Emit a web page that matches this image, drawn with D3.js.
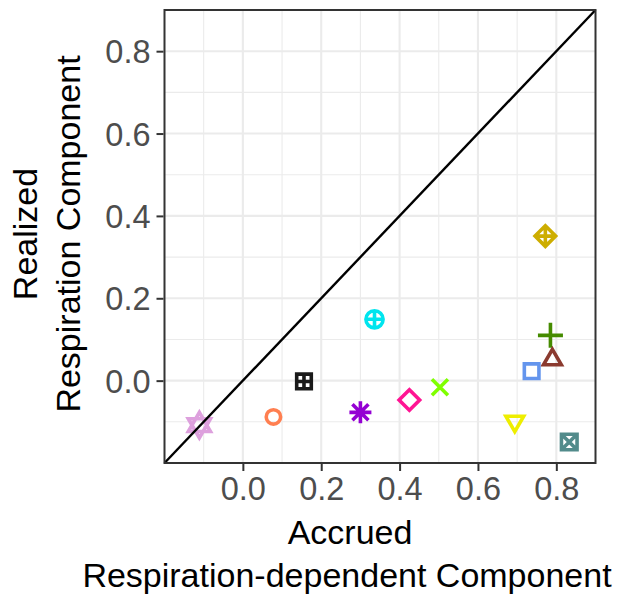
<!DOCTYPE html>
<html>
<head>
<meta charset="utf-8">
<script src="https://cdn.jsdelivr.net/npm/d3@7"></script>
<style>
  html, body { margin: 0; padding: 0; background: #fff; }
  svg { display: block; font-family: "Liberation Sans", Arial, sans-serif; }
</style>
</head>
<body>
<svg id="chart" width="627" height="600"></svg>
<script>
// ---- data ----
const accrued  = [-0.111, 0.078, 0.156, 0.300, 0.336, 0.425, 0.503, 0.772, 0.785, 0.790, 0.737, 0.694, 0.833];
const realized = [-0.108, -0.088, -0.002, -0.077, 0.149, -0.047, -0.016, 0.351, 0.110, 0.051, 0.023, -0.099, -0.149];
const shapes   = ["starDavid", "circle", "squarePlus", "asterisk", "circlePlus", "diamond", "cross", "diamondPlus", "plus", "triangleUp", "square", "triangleDown", "squareCross"];
const colors   = ["#DDA0DD", "#FF7F50", "#1A1A1A", "#9400D3", "#00E5EE", "#FF1493", "#7FFF00", "#CDAD00", "#458B00", "#8B3A2F", "#6495ED", "#EEEE00", "#528B8B"];
const tickValues = [0.0, 0.2, 0.4, 0.6, 0.8];
const minorValues = [-0.1, 0.1, 0.3, 0.5, 0.7];
const xTitle = ["Accrued", "Respiration-dependent Component"];
const yTitle = ["Realized", "Respiration Component"];

const svg = d3.select("#chart");
const panel = {left: 164.5, right: 595.5, top: 10, bottom: 463};

const x = d3.scaleLinear().domain([-0.2, 0.9]).range([panel.left, panel.right]);
const y = d3.scaleLinear().domain([-0.2, 0.9]).range([panel.bottom, panel.top]);

// grid
const grid = svg.append("g");
grid.selectAll(".vminor").data(minorValues).enter().append("line")
  .attr("x1", d => x(d)).attr("x2", d => x(d)).attr("y1", panel.top).attr("y2", panel.bottom)
  .attr("stroke", "#EBEBEB").attr("stroke-width", 1.1);
grid.selectAll(".hminor").data(minorValues).enter().append("line")
  .attr("y1", d => y(d)).attr("y2", d => y(d)).attr("x1", panel.left).attr("x2", panel.right)
  .attr("stroke", "#EBEBEB").attr("stroke-width", 1.1);
grid.selectAll(".vmajor").data(tickValues).enter().append("line")
  .attr("x1", d => x(d)).attr("x2", d => x(d)).attr("y1", panel.top).attr("y2", panel.bottom)
  .attr("stroke", "#EBEBEB").attr("stroke-width", 2.1);
grid.selectAll(".hmajor").data(tickValues).enter().append("line")
  .attr("y1", d => y(d)).attr("y2", d => y(d)).attr("x1", panel.left).attr("x2", panel.right)
  .attr("stroke", "#EBEBEB").attr("stroke-width", 2.1);

// symbols
function symPath(type) {
  const p = d3.path();
  switch (type) {
    case "square": { const s = 7.3; p.rect(-s, -s, 2*s, 2*s); break; }
    case "circle": { p.moveTo(7.2, 0); p.arc(0, 0, 7.2, 0, 2*Math.PI); break; }
    case "squarePlus": { const s = 7.3; p.rect(-s, -s, 2*s, 2*s); p.moveTo(-s, 0); p.lineTo(s, 0); p.moveTo(0, -s); p.lineTo(0, s); break; }
    case "squareCross": { const s = 7.8; p.rect(-s, -s, 2*s, 2*s); p.moveTo(-s, -s); p.lineTo(s, s); p.moveTo(s, -s); p.lineTo(-s, s); break; }
    case "circlePlus": { const r = 8.6; p.moveTo(r, 0); p.arc(0, 0, r, 0, 2*Math.PI); p.moveTo(-r, 0); p.lineTo(r, 0); p.moveTo(0, -r); p.lineTo(0, r); break; }
    case "diamond": { const r = 10.3; p.moveTo(0, -r); p.lineTo(r, 0); p.lineTo(0, r); p.lineTo(-r, 0); p.closePath(); break; }
    case "diamondPlus": { const r = 10.3; p.moveTo(0, -r); p.lineTo(r, 0); p.lineTo(0, r); p.lineTo(-r, 0); p.closePath(); p.moveTo(-r, 0); p.lineTo(r, 0); p.moveTo(0, -r); p.lineTo(0, r); break; }
    case "cross": { const s = 8; p.moveTo(-s, -s); p.lineTo(s, s); p.moveTo(s, -s); p.lineTo(-s, s); break; }
    case "plus": { const s = 12.5; p.moveTo(-s, 0); p.lineTo(s, 0); p.moveTo(0, -s); p.lineTo(0, s); break; }
    case "asterisk": { const s = 11, d = 8; p.moveTo(-s, 0); p.lineTo(s, 0); p.moveTo(0, -s); p.lineTo(0, s); p.moveTo(-d, -d); p.lineTo(d, d); p.moveTo(d, -d); p.lineTo(-d, d); break; }
    case "triangleUp": { const r = 10.3, h = r*Math.sqrt(3)/2; p.moveTo(0, -r); p.lineTo(h, r/2); p.lineTo(-h, r/2); p.closePath(); break; }
    case "triangleDown": { const r = 10.3, h = r*Math.sqrt(3)/2; p.moveTo(0, r); p.lineTo(h, -r/2); p.lineTo(-h, -r/2); p.closePath(); break; }
    case "starDavid": { const r = 12.8, h = r*Math.sqrt(3)/2; p.moveTo(0, -r); p.lineTo(h, r/2); p.lineTo(-h, r/2); p.closePath(); p.moveTo(0, r); p.lineTo(h, -r/2); p.lineTo(-h, -r/2); p.closePath(); break; }
  }
  return p.toString();
}

const pts = accrued.map((v, i) => ({x: v, y: realized[i], shape: shapes[i], color: colors[i]}));
svg.append("g").selectAll("path").data(pts).enter().append("path")
  .attr("transform", d => `translate(${x(d.x)},${y(d.y)})`)
  .attr("d", d => symPath(d.shape))
  .attr("fill", "none")
  .attr("stroke", d => d.color)
  .attr("stroke-width", 3.6);

// identity line (drawn over the points)
svg.append("line")
  .attr("x1", x(-0.2)).attr("y1", y(-0.2)).attr("x2", x(0.9)).attr("y2", y(0.9))
  .attr("stroke", "#000").attr("stroke-width", 2.4);

// panel border
svg.append("rect")
  .attr("x", panel.left).attr("y", panel.top)
  .attr("width", panel.right - panel.left).attr("height", panel.bottom - panel.top)
  .attr("fill", "none").attr("stroke", "#333333").attr("stroke-width", 2);

// axes
const xAxis = d3.axisBottom(x).tickValues(tickValues).tickFormat(d3.format(".1f")).tickSize(7).tickPadding(6);
const yAxis = d3.axisLeft(y).tickValues(tickValues).tickFormat(d3.format(".1f")).tickSize(7).tickPadding(6);

const gx = svg.append("g").attr("transform", `translate(0,${panel.bottom + 1})`).call(xAxis);
const gy = svg.append("g").attr("transform", `translate(${panel.left - 1},0)`).call(yAxis);
[gx, gy].forEach(g => {
  g.select(".domain").remove();
  g.selectAll(".tick line").attr("stroke", "#333333").attr("stroke-width", 2);
  g.selectAll(".tick text").attr("fill", "#4D4D4D").attr("font-size", 32.5)
    .attr("font-family", "Liberation Sans, Arial, sans-serif");
});
gy.selectAll(".tick text").attr("dy", "0.36em");

// axis titles
const xt = svg.append("text").attr("text-anchor", "middle").attr("font-size", 34).attr("fill", "#000");
xt.append("tspan").attr("x", 350).attr("y", 544).text(xTitle[0]);
xt.append("tspan").attr("x", 347).attr("y", 587).text(xTitle[1]);

const yt = svg.append("text").attr("text-anchor", "middle").attr("font-size", 34).attr("fill", "#000")
  .attr("transform", "rotate(-90)");
yt.append("tspan").attr("x", -234).attr("y", 37).text(yTitle[0]);
yt.append("tspan").attr("x", -234).attr("y", 80).text(yTitle[1]);
</script>
</body>
</html>
